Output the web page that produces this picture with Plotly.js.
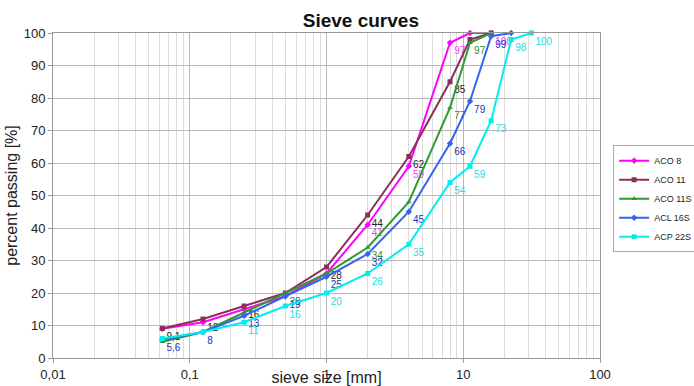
<!DOCTYPE html>
<html>
<head>
<meta charset="utf-8">
<script src="https://cdn.plot.ly/plotly-3.0.1.min.js"></script>
<style>html,body{margin:0;padding:0;background:#fff;}#chart{width:694px;height:386px;}</style>
</head>
<body>
<div id="chart"></div>
<script>
// sieve sizes [mm]
const sieves = [0.063, 0.125, 0.25, 0.5, 1, 2, 4, 8, 11.2, 16, 22.4, 31.5];
const seriesNames = ["ACO 8", "ACO 11", "ACO 11S", "ACL 16S", "ACP 22S"];
const aco8   = [9, 11, 15, 19, 26, 41, 59, 97, 100, 100];
const aco11  = [9.1, 12, 16, 20, 28, 44, 62, 85, 98, 100];
const aco11s = [5, 8, 14, 20, 26, 34, 48, 77, 97, 100];
const acl16s = [5.6, 8, 13, 19, 25, 32, 45, 66, 79, 99, 100];
const acp22s = [6, 8, 11, 16, 20, 26, 35, 54, 59, 73, 98, 100];
// data labels that are visible in the chart ("" = hidden under other labels)
const aco8Labels   = ["", "", "", "", "", "41", "59", "97", "", "100"];
const aco11Labels  = ["9,1", "12", "16", "", "28", "44", "62", "85", "", ""];
const aco11sLabels = ["", "", "", "20", "", "34", "", "77", "97", ""];
const acl16sLabels = ["5,6", "8", "13", "19", "25", "32", "45", "66", "79", "99", ""];
const acp22sLabels = ["", "", "11", "16", "20", "26", "35", "54", "59", "73", "98", "100"];
const xTickVals = [0.01, 0.1, 1, 10, 100];
const xTickText = ["0,01", "0,1", "1", "10", "100"];

const styles = [
  {color: "#ff00ff", text: "#ff33ff", symbol: "diamond"},
  {color: "#8b2f5a", text: "#222222", symbol: "square"},
  {color: "#2f9a2f", text: "#2f8a2f", symbol: "triangle-up"},
  {color: "#3366ee", text: "#2233bb", symbol: "diamond"},
  {color: "#00eeee", text: "#22dddd", symbol: "square"}
];
const allVals = [aco8, aco11, aco11s, acl16s, acp22s];
const allLabels = [aco8Labels, aco11Labels, aco11sLabels, acl16sLabels, acp22sLabels];

const traces = allVals.map((vals, i) => ({
  type: "scatter",
  mode: "lines+markers+text",
  name: seriesNames[i],
  x: sieves.slice(0, vals.length),
  y: vals,
  text: allLabels[i],
  textposition: "bottom right",
  textfont: {family: "Liberation Sans, Arial, sans-serif", size: 10, color: styles[i].text},
  line: {color: styles[i].color, width: 2},
  marker: {color: styles[i].color, size: 5, symbol: styles[i].symbol},
  cliponaxis: false
}));

const layout = {
  width: 694, height: 386,
  margin: {l: 53, r: 94, t: 33, b: 28, autoexpand: false},
  paper_bgcolor: "#ffffff",
  plot_bgcolor: "#ffffff",
  font: {family: "Liberation Sans, Arial, sans-serif", color: "#222"},
  title: {
    text: "<b>Sieve curves</b>",
    font: {size: 19, color: "#111"},
    x: 0.52, xref: "container", xanchor: "center",
    y: 0.948, yref: "container", yanchor: "middle"
  },
  xaxis: {
    type: "log",
    range: [-2, 2],
    tickmode: "array",
    tickvals: xTickVals,
    ticktext: xTickText,
    tickfont: {size: 13, color: "#222"},
    ticks: "outside", ticklen: 4, tickcolor: "#999",
    showgrid: true,
    gridcolor: "#b8b8b8",
    gridwidth: 1,
    minor: {dtick: "D1", showgrid: true, gridcolor: "#dcdcdc", gridwidth: 1, ticks: ""},
    showline: true, linecolor: "#999", mirror: true, linewidth: 1,
    zeroline: false,
    title: {text: "sieve size [mm]", font: {size: 16, color: "#222"}, standoff: 0}
  },
  yaxis: {
    range: [0, 100],
    tickmode: "array",
    tickvals: [0, 10, 20, 30, 40, 50, 60, 70, 80, 90, 100],
    tickfont: {size: 13, color: "#222"},
    ticks: "outside", ticklen: 4, tickcolor: "#999",
    showgrid: true,
    gridcolor: "#b8b8b8",
    showline: true, linecolor: "#999", mirror: true, linewidth: 1,
    zeroline: false,
    title: {text: "percent passing [%]", font: {size: 16, color: "#222"}, standoff: 2}
  },
  showlegend: true,
  legend: {
    x: 1.024, xanchor: "left",
    y: 0.49, yanchor: "middle",
    bordercolor: "#aaa", borderwidth: 1,
    font: {size: 9, color: "#222"},
    itemwidth: 30,
    tracegroupgap: 0
  }
};

Plotly.newPlot("chart", traces, layout, {displayModeBar: false, staticPlot: true});
</script>
</body>
</html>
